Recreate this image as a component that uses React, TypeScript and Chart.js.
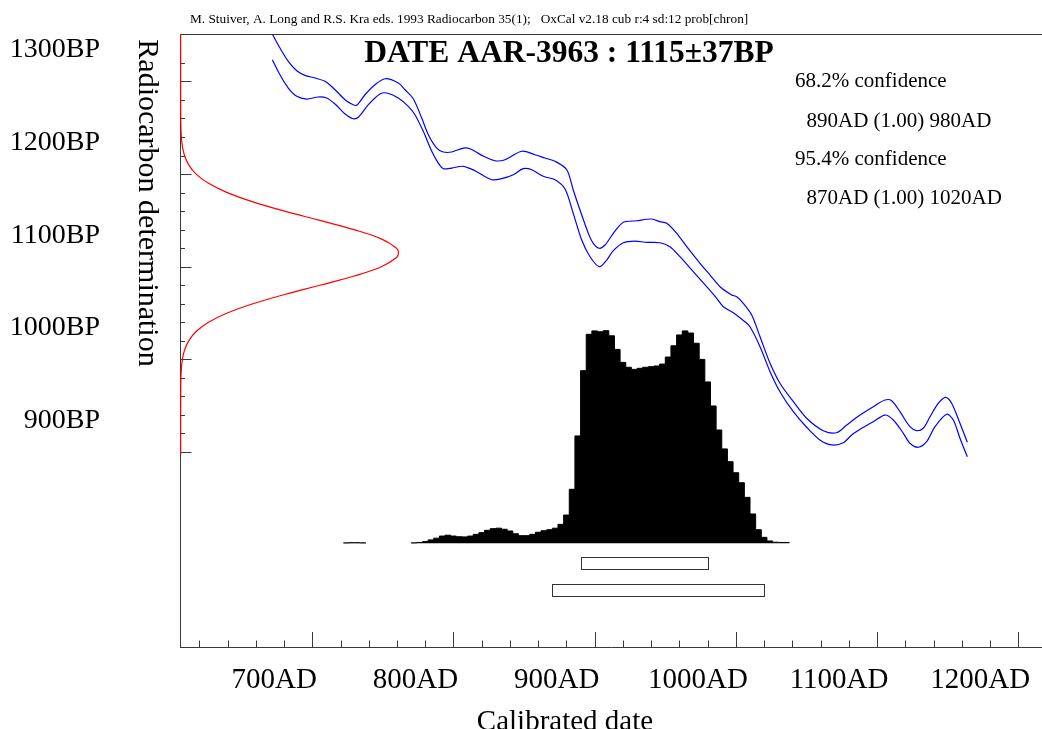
import React, { useEffect, useRef } from 'react';
import { Chart, registerables } from 'chart.js';

Chart.register(...registerables);

const SERIF = '"Liberation Serif", "Times New Roman", serif';
Chart.defaults.font.family = SERIF;

// ---------- axes ----------
const X_MIN = 606.3;
const X_MAX = 1216.8;
const Y_MIN = 689.5;
const Y_MAX = 1351.2;

const xTicks = [620, 640, 660, 680, 700, 720, 740, 760, 780, 800, 820, 840, 860, 880, 900, 920, 940, 960, 980, 1000, 1020, 1040, 1060, 1080, 1100, 1120, 1140, 1160, 1180, 1200];
const xMajor = [700, 800, 900, 1000, 1100, 1200];
const yTicks = [900, 920, 940, 960, 980, 1000, 1020, 1040, 1060, 1080, 1100, 1120, 1140, 1160, 1180, 1200, 1220, 1240, 1260, 1280, 1300, 1320];
const yMajor = [900, 1000, 1100, 1200, 1300];

// ---------- calibration curve (upper / lower 1-sigma lines) ----------
const upperAD = [671.7, 677.1, 683.0, 689.0, 694.8, 701.9, 709.0, 716.1, 723.2, 727.9, 731.4, 737.3, 744.4, 751.5, 760.9, 765.7, 771.5, 777.5, 782.2, 788.1, 792.8, 798.7, 806.9, 811.7, 820.0, 829.4, 836.5, 848.3, 857.7, 864.8, 871.9, 880.2, 884.8, 889.6, 895.5, 899.0, 903.3, 907.3, 913.2, 920.3, 929.7, 940.4, 946.2, 951.0, 958.1, 965.2, 974.6, 981.7, 988.8, 997.0, 1000.6, 1005.2, 1011.2, 1017.1, 1024.2, 1031.2, 1040.7, 1050.1, 1061.9, 1071.4, 1078.5, 1087.9, 1097.3, 1105.6, 1110.3, 1116.2, 1123.3, 1128.0, 1132.7, 1137.5, 1143.3, 1148.6, 1152.8, 1158.7, 1163.9];
const upperBP = [1351.2, 1336.1, 1321.7, 1311.5, 1306.6, 1303.7, 1300.1, 1291.0, 1280.2, 1275.6, 1274.2, 1285.6, 1296.4, 1302.9, 1298.3, 1291.0, 1281.3, 1260.5, 1242.5, 1228.1, 1223.8, 1223.8, 1228.1, 1227.4, 1220.2, 1214.4, 1215.5, 1224.6, 1220.9, 1217.3, 1213.8, 1204.7, 1182.8, 1161.2, 1136.0, 1125.3, 1119.9, 1123.4, 1136.0, 1147.9, 1149.6, 1151.5, 1148.6, 1146.8, 1136.0, 1121.6, 1103.7, 1091.0, 1078.4, 1069.5, 1067.6, 1060.5, 1047.9, 1024.4, 995.7, 974.2, 954.3, 936.4, 923.0, 920.8, 929.1, 939.9, 948.9, 956.1, 955.4, 943.5, 927.3, 923.0, 925.6, 938.1, 952.6, 959.0, 952.6, 931.0, 910.5];
const lowerAD = [671.7, 677.1, 683.0, 689.0, 696.0, 704.2, 710.2, 716.1, 723.2, 729.0, 732.6, 739.7, 747.9, 752.7, 760.9, 768.0, 772.7, 778.6, 784.6, 789.2, 792.8, 798.7, 806.9, 815.2, 827.1, 834.1, 842.4, 849.4, 855.4, 863.6, 871.9, 879.0, 884.8, 890.8, 896.7, 903.3, 908.5, 913.2, 920.3, 928.5, 936.8, 946.2, 953.3, 960.4, 969.8, 979.3, 986.4, 991.1, 998.2, 1006.4, 1010.0, 1017.1, 1024.2, 1031.2, 1040.7, 1050.1, 1059.5, 1067.8, 1076.1, 1082.0, 1089.1, 1097.3, 1105.6, 1111.5, 1118.6, 1123.3, 1129.2, 1135.1, 1141.0, 1149.3, 1154.0, 1158.7, 1163.9];
const lowerBP = [1323.4, 1307.2, 1292.9, 1283.9, 1281.0, 1283.2, 1282.1, 1275.6, 1264.8, 1259.7, 1261.3, 1274.9, 1286.4, 1287.5, 1282.1, 1273.1, 1264.1, 1246.1, 1224.6, 1211.9, 1205.8, 1206.5, 1208.4, 1203.6, 1193.9, 1195.0, 1199.3, 1205.8, 1204.7, 1197.6, 1193.9, 1183.9, 1157.6, 1128.8, 1110.8, 1100.0, 1107.2, 1117.3, 1125.9, 1127.7, 1126.3, 1125.9, 1121.6, 1110.8, 1094.6, 1078.4, 1065.9, 1056.8, 1050.4, 1040.6, 1035.2, 1013.7, 986.7, 965.1, 943.5, 926.7, 913.0, 907.6, 910.0, 918.3, 925.6, 932.7, 939.9, 934.5, 920.2, 909.4, 905.1, 911.1, 927.3, 940.7, 934.5, 914.8, 894.9];

// ---------- radiocarbon measurement (red curve, relative density) ----------
const gaussBP = [1352, 1300, 1260, 1250, 1240, 1230, 1220, 1210, 1200, 1190, 1180, 1170, 1160, 1150, 1140, 1130, 1120, 1115, 1110, 1100, 1090, 1080, 1070, 1060, 1050, 1040, 1030, 1020, 1010, 1000, 990, 980, 970, 930, 897];
const gaussDensity = [0, 0, 0.0005, 0.0013, 0.0033, 0.008, 0.0178, 0.037, 0.071, 0.128, 0.214, 0.332, 0.477, 0.639, 0.796, 0.921, 0.991, 1, 0.991, 0.921, 0.796, 0.639, 0.477, 0.332, 0.214, 0.128, 0.071, 0.037, 0.0178, 0.008, 0.0033, 0.0013, 0.0005, 0, 0];

// ---------- calibrated probability (4-year bins, relative) ----------
const BIN = 4;
const binAD = [
  724, 728, 732, 736, 740, 744, 748, 752, 756, 760, 764, 768,
  772, 776, 780, 784, 788, 792, 796, 800, 804, 808,
  812, 816, 820, 824, 828, 832, 836, 840, 844, 848,
  852, 856, 860, 864, 868, 872, 876, 880, 884, 888,
  892, 896, 900, 904, 908, 912, 916, 920, 924, 928,
  932, 936, 940, 944, 948, 952, 956, 960, 964, 968,
  972, 976, 980, 984, 988, 992, 996, 1000, 1004, 1008,
  1012, 1016, 1020, 1024, 1028, 1032, 1036,
];
const binProb = [
  0.002, 0.003, 0.003, 0.002, null, null, null, null, null, null, null, null,
  0.002, 0.004, 0.008, 0.016, 0.024, 0.034, 0.038, 0.034, 0.031, 0.030,
  0.034, 0.042, 0.050, 0.061, 0.069, 0.071, 0.066, 0.058, 0.045, 0.036,
  0.036, 0.042, 0.052, 0.059, 0.064, 0.071, 0.089, 0.133, 0.254, 0.505,
  0.812, 0.983, 0.999, 0.995, 1.0, 0.976, 0.912, 0.851, 0.828, 0.818,
  0.823, 0.828, 0.831, 0.834, 0.843, 0.876, 0.929, 0.980, 0.999, 0.989,
  0.941, 0.865, 0.759, 0.646, 0.533, 0.444, 0.384, 0.332, 0.285, 0.216,
  0.138, 0.064, 0.028, 0.011, 0.005, 0.004, 0.004,
];

// ---------- ranges & texts ----------
const range68 = [890, 980];
const range95 = [870, 1020];
const headerText = 'M. Stuiver, A. Long and R.S. Kra eds. 1993 Radiocarbon 35(1);   OxCal v2.18 cub r:4 sd:12 prob[chron]';
const titleText = 'DATE AAR-3963 : 1115\u00B137BP';
const confLines = ['68.2% confidence', '890AD (1.00) 980AD', '95.4% confidence', '870AD (1.00) 1020AD'];
const xTitle = 'Calibrated date';
const yTitle = 'Radiocarbon determination';

const AXIS = '#3a3a3a';
const BLUE = '#0000ff';
const RED = '#ff0000';

const zip = (xs: number[], ys: number[]) => xs.map((x, i) => ({ x, y: ys[i] }));

function histPoints() {
  const pts: { x: number; y: number | null }[] = [];
  binAD.forEach((c, i) => {
    const p = binProb[i];
    if (p === null) {
      pts.push({ x: c - BIN / 2, y: null });
      return;
    }
    pts.push({ x: c - BIN / 2, y: p });
    const next = binProb[i + 1];
    if (next === null || next === undefined) pts.push({ x: c + BIN / 2, y: p });
  });
  return pts;
}

const decorPlugin = {
  id: 'decor',
  beforeDatasetsDraw(chart: any) {
    const { ctx, chartArea: ca, scales } = chart;
    const xs = scales.x;
    const ys = scales.y;
    ctx.save();
    ctx.strokeStyle = AXIS;
    ctx.lineWidth = 1;
    ctx.beginPath();
    // top border
    ctx.moveTo(ca.left, ca.top + 0.5);
    ctx.lineTo(ca.right, ca.top + 0.5);
    // x ticks (inward)
    for (const v of xTicks) {
      const px = Math.round(xs.getPixelForValue(v)) + 0.5;
      const len = xMajor.includes(v) ? 15 : 6.5;
      ctx.moveTo(px, ca.bottom);
      ctx.lineTo(px, ca.bottom - len);
    }
    // y ticks (inward)
    for (const v of yTicks) {
      const py = Math.round(ys.getPixelForValue(v)) + 0.5;
      const len = yMajor.includes(v) ? 11.5 : 5;
      ctx.moveTo(ca.left, py);
      ctx.lineTo(ca.left + len, py);
    }
    ctx.stroke();
    ctx.restore();
  },
  afterDraw(chart: any) {
    const { ctx, scales } = chart;
    const xs = scales.x;
    const yp = scales.yp;
    ctx.save();
    // confidence range boxes
    const base = yp.getPixelForValue(0);
    ctx.strokeStyle = '#333';
    ctx.lineWidth = 1;
    const box = (r: number[], top: number, bottom: number) => {
      const x1 = Math.round(xs.getPixelForValue(r[0])) + 0.5;
      const x2 = Math.round(xs.getPixelForValue(r[1])) + 0.5;
      const y1 = Math.round(base + top) + 0.5;
      const y2 = Math.round(base + bottom) + 0.5;
      ctx.strokeRect(x1, y1, x2 - x1, y2 - y1);
    };
    box(range68, 13.4, 26);
    box(range95, 40.4, 52.7);

    ctx.fillStyle = '#000';
    ctx.textBaseline = 'alphabetic';
    ctx.textAlign = 'left';
    ctx.font = `13.3px ${SERIF}`;
    ctx.fillText(headerText, 190, 23);

    ctx.font = `bold 31.5px ${SERIF}`;
    ctx.textAlign = 'center';
    ctx.fillText(titleText, 569, 61.5);

    ctx.font = `21px ${SERIF}`;
    ctx.textAlign = 'left';
    const cx = [795, 806.5, 795, 806.5];
    const cy = [87, 126.5, 165, 204];
    confLines.forEach((t, i) => ctx.fillText(t, cx[i], cy[i]));

    ctx.font = `29px ${SERIF}`;
    ctx.textAlign = 'center';
    ctx.fillText(xTitle, 565, 730);

    ctx.save();
    ctx.translate(147, 203);
    ctx.rotate(Math.PI / 2);
    ctx.textBaseline = 'middle';
    ctx.font = `30px ${SERIF}`;
    ctx.fillText(yTitle, 0, 0);
    ctx.restore();

    ctx.restore();
  },
};

export default function App() {
  const ref = useRef<HTMLCanvasElement | null>(null);

  useEffect(() => {
    document.body.style.margin = '0';
    const canvas = ref.current;
    if (!canvas) return;
    const tickFontX = { family: SERIF, size: 29 };
    const tickFontY = { family: SERIF, size: 28 };
    const chart = new Chart(canvas, {
      type: 'line',
      data: {
        datasets: [
          {
            label: 'upper',
            data: zip(upperAD, upperBP),
            borderColor: BLUE,
            borderWidth: 1.2,
            tension: 0.3,
            pointRadius: 0,
            fill: false,
          },
          {
            label: 'lower',
            data: zip(lowerAD, lowerBP),
            borderColor: BLUE,
            borderWidth: 1.2,
            tension: 0.3,
            pointRadius: 0,
            fill: false,
          },
          {
            label: 'measurement',
            data: zip(gaussDensity, gaussBP),
            xAxisID: 'xg',
            yAxisID: 'y',
            borderColor: RED,
            borderWidth: 1.2,
            tension: 0.4,
            pointRadius: 0,
            fill: false,
          },
          {
            label: 'probability',
            data: histPoints() as any,
            xAxisID: 'x',
            yAxisID: 'yp',
            borderColor: '#000',
            backgroundColor: '#000',
            borderWidth: 1,
            stepped: 'before',
            pointRadius: 0,
            spanGaps: false,
            fill: { value: 0 },
          },
        ],
      },
      options: {
        responsive: false,
        animation: false,
        events: [],
        layout: { padding: { top: 34, left: 0, right: 0, bottom: 0 } },
        plugins: {
          legend: { display: false },
          tooltip: { enabled: false },
          title: { display: false },
        },
        elements: { point: { radius: 0 } },
        scales: {
          x: {
            type: 'linear',
            position: 'bottom',
            min: X_MIN,
            max: X_MAX,
            afterBuildTicks: (s: any) => {
              s.ticks = xTicks.map((v) => ({ value: v }));
            },
            afterFit: (s: any) => {
              s.height = 82;
              s.paddingLeft = 0;
              s.paddingRight = 0;
            },
            grid: { display: true, drawOnChartArea: false, drawTicks: false },
            border: { display: true, color: AXIS, width: 1 },
            ticks: {
              autoSkip: false,
              maxRotation: 0,
              minRotation: 0,
              padding: 15.6,
              labelOffset: -38,
              color: '#000',
              font: tickFontX,
              callback: (v: any) => (xMajor.includes(Number(v)) ? `${v}AD` : ''),
            },
          },
          y: {
            type: 'linear',
            position: 'left',
            min: Y_MIN,
            max: Y_MAX,
            afterBuildTicks: (s: any) => {
              s.ticks = yTicks.map((v) => ({ value: v }));
            },
            afterFit: (s: any) => {
              s.width = 180;
              s.paddingTop = 0;
              s.paddingBottom = 0;
            },
            grid: { display: true, drawOnChartArea: false, drawTicks: false },
            border: { display: true, color: AXIS, width: 1 },
            ticks: {
              autoSkip: false,
              padding: 80,
              labelOffset: -31.5,
              color: '#000',
              font: tickFontY,
              callback: (v: any) => (yMajor.includes(Number(v)) ? `${v}BP` : ''),
            },
          },
          xg: {
            type: 'linear',
            display: false,
            min: -0.003,
            max: 3.954,
          },
          yp: {
            type: 'linear',
            display: false,
            min: -0.4878,
            max: 2.3956,
          },
        },
      } as any,
      plugins: [decorPlugin as any],
    });
    return () => chart.destroy();
  }, []);

  return (
    <div style={{ width: 1042, height: 729, background: '#fff' }}>
      <canvas ref={ref} width={1042} height={729} style={{ display: 'block' }} />
    </div>
  );
}
